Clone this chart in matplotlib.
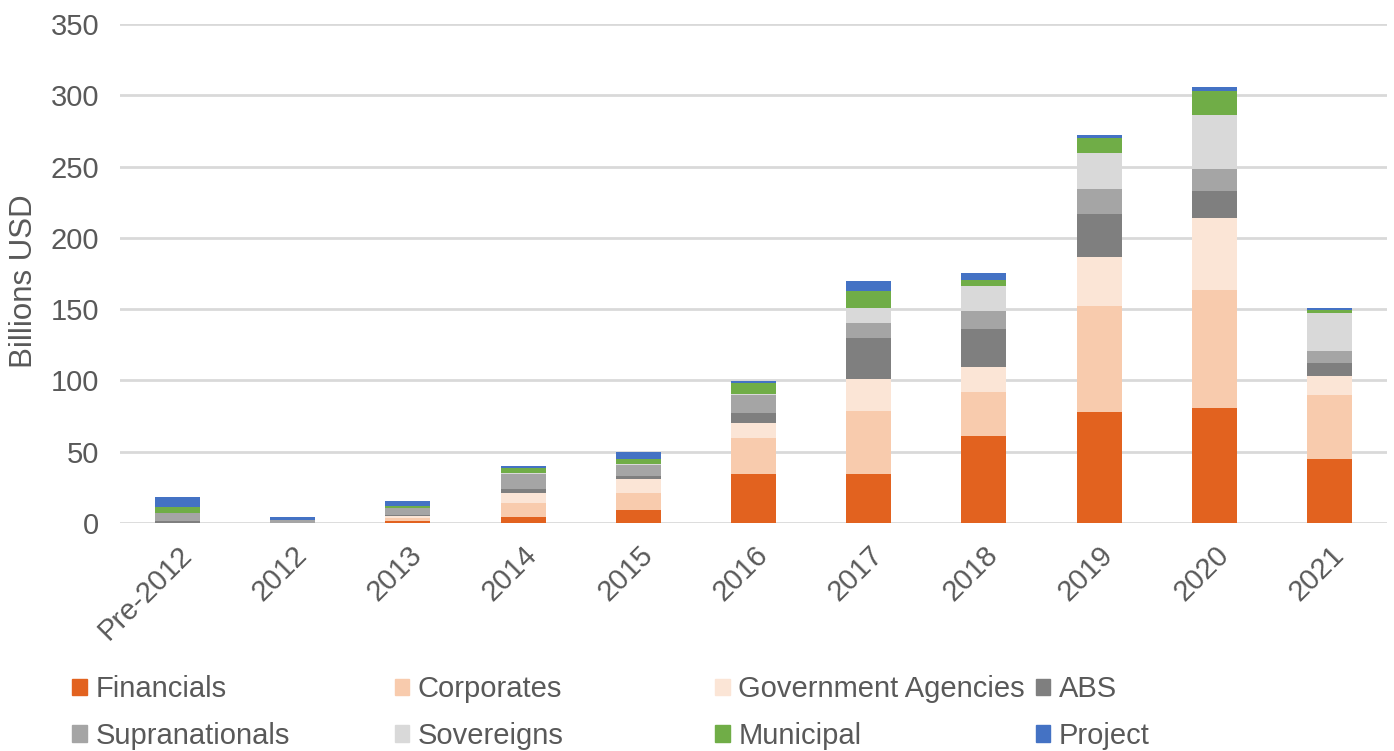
import matplotlib
matplotlib.use('Agg')
import matplotlib.pyplot as plt
import matplotlib.patches as mpatches
import numpy as np

plt.rcParams['font.family'] = ['Liberation Sans', 'DejaVu Sans']

categories = ['Pre-2012', '2012', '2013', '2014', '2015', '2016',
              '2017', '2018', '2019', '2020', '2021']
financials = [0, 0, 1.2, 4.1, 9.3, 34.7, 34.5, 60.7, 77.6, 80.7, 45.1]
corporates = [0, 0, 2.4, 9.6, 11.9, 25.2, 43.8, 31.2, 74.4, 82.5, 44.9]
gov_agencies = [0, 0, 1.6, 7.4, 9.6, 10.5, 22.9, 17.8, 34.6, 50.7, 12.9]
abs_vals = [1.5, 0.3, 0.5, 2.9, 1.9, 7.1, 28.6, 26.5, 30.4, 18.7, 9.3]
supranationals = [5.6, 1.9, 4.8, 10.7, 8.2, 12.4, 10.6, 12.6, 17.5, 15.5, 8.2]
sovereigns = [0, 0, 0.3, 0.5, 0.3, 0.5, 10.5, 17.6, 25.3, 37.8, 27.1]
municipal = [4.1, 0, 1.4, 3.4, 3.6, 7.8, 11.7, 4.4, 10.5, 16.9, 1.7]
project = [6.7, 1.7, 2.9, 1.2, 5.0, 1.6, 7.1, 4.3, 2.1, 3.0, 1.4]

series = [
    ('Financials', financials, '#E2621F'),
    ('Corporates', corporates, '#F8CBAD'),
    ('Government Agencies', gov_agencies, '#FBE5D6'),
    ('ABS', abs_vals, '#7F7F7F'),
    ('Supranationals', supranationals, '#A5A5A5'),
    ('Sovereigns', sovereigns, '#D9D9D9'),
    ('Municipal', municipal, '#70AD47'),
    ('Project', project, '#4472C4'),
]

text_color = '#595959'

fig = plt.figure(figsize=(13.94, 7.51), dpi=100)
ax = fig.add_axes([0.086, 0.3036, 0.909, 0.6644])

x = np.arange(len(categories))
bottom = np.zeros(len(categories))
handles = []
for name, vals, color in series:
    vals = np.array(vals, dtype=float)
    ax.bar(x, vals, width=0.39, bottom=bottom, color=color, zorder=3)
    bottom += vals
    handles.append(mpatches.Patch(color=color, label=name))

ax.set_xlim(-0.5, len(categories) - 0.5)
ax.set_ylim(0, 350)
ax.set_yticks(np.arange(0, 351, 50))
ax.yaxis.grid(True, color='#D9D9D9', linewidth=2, zorder=0)
for s in ax.spines.values():
    s.set_visible(False)
ax.tick_params(axis='both', length=0, labelsize=21, colors=text_color)
ax.tick_params(axis='x', pad=13)
ax.tick_params(axis='y', pad=15)
ax.set_xticks(x)
ax.set_xticklabels(categories, rotation=45, ha='right', rotation_mode='anchor')
ax.set_ylabel('Billions USD', fontsize=22.5, color=text_color, labelpad=4)
ax.yaxis.set_label_coords(-0.064, 0.485)

# legend: 4 columns, 2 rows, evenly spaced
col_x = [0.052, 0.283, 0.513, 0.743]
row_y = [0.082, 0.020]
for i, h in enumerate(handles):
    r, c = divmod(i, 4)
    leg = fig.legend(handles=[h], loc='center left',
                     bbox_to_anchor=(col_x[c], row_y[r]), frameon=False,
                     fontsize=21, handlelength=0.5, handleheight=0.5,
                     handletextpad=0.3, borderpad=0, borderaxespad=0)
    for t in leg.get_texts():
        t.set_color(text_color)

fig.savefig('out.png', dpi=100)
